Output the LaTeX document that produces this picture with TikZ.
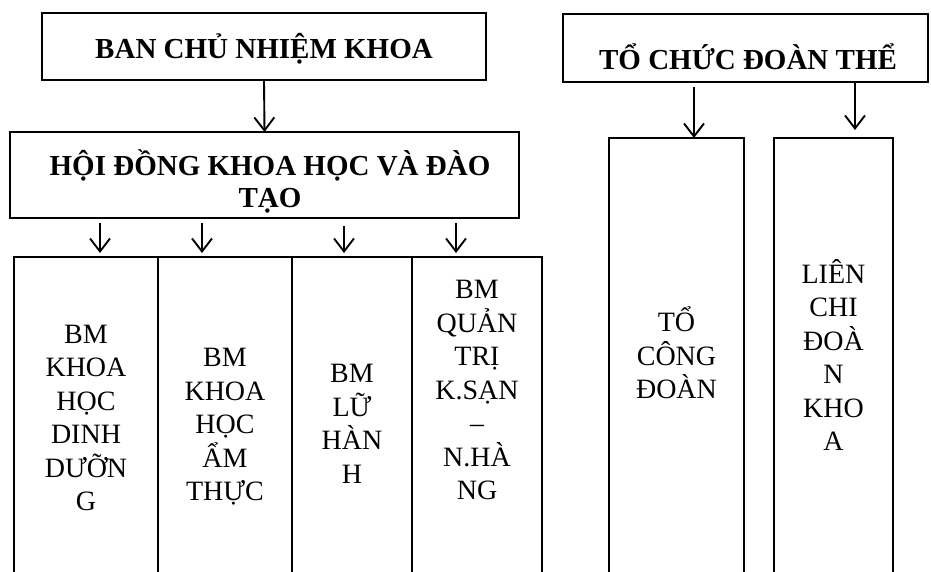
\documentclass[tikz,border=0pt]{standalone}
\usepackage{fontspec}
\setmainfont{Liberation Serif}
\usetikzlibrary{arrows.meta}
\begin{document}
\begin{tikzpicture}[x=1pt,y=-1pt,
  frame/.style={draw=black, line width=2.6pt, inner sep=0pt, outer sep=0pt},
  col/.style={draw=none, inner sep=0pt, outer sep=0pt},
  border/.style={draw=black, line width=2.6pt},
  head/.style={font=\fontsize{29}{32}\selectfont\bfseries, align=center, inner sep=0pt},
  body/.style={font=\fontsize{28}{33.5}\selectfont, align=center, inner sep=0pt},
  arr/.style={line width=1.9pt, -{Straight Barb[length=13pt,width=20pt,line width=1.9pt]}},
]
\useasboundingbox (0,0) rectangle (931,572);
\clip (0,0) rectangle (931,572);

% top boxes
\node[frame, minimum width=444pt, minimum height=67pt] (ban) at (264,46.5) {};
\node[head, anchor=base] (bant) at (264,59) {BAN CHỦ NHIỆM KHOA};

\node[frame, minimum width=509pt, minimum height=86pt] (hd) at (264.5,175) {};
\node[head] (hdt) at (270,181) {HỘI ĐỒNG KHOA HỌC VÀ ĐÀO\\TẠO};

\node[frame, minimum width=365pt, minimum height=68pt] (tc) at (745.5,48) {};
\node[head, anchor=base] (tct) at (748,70) {TỔ CHỨC ĐOÀN THỂ};

% columns (open at the bottom)
\node[col, minimum width=144pt, minimum height=343pt] (c1) at (86,428.5) {};
\node[col, minimum width=134pt, minimum height=343pt] (c2) at (225,428.5) {};
\node[col, minimum width=120pt, minimum height=343pt] (c3) at (352,428.5) {};
\node[col, minimum width=130pt, minimum height=343pt] (c4) at (477,428.5) {};
\node[col, minimum width=135pt, minimum height=470pt] (c5) at (676.5,373) {};
\node[col, minimum width=119pt, minimum height=470pt] (c6) at (833.5,373) {};

\foreach \c in {c1,c2,c3,c4,c5,c6}{
  \draw[border] (\c.south west) |- (\c.north east) -- (\c.south east);
}

% column texts
\node[body] (t1) at (86,418) {BM\\KHOA\\HỌC\\DINH\\DƯỠN\\G};
\node[body] (t2) at (225,427) {BM\\KHOA\\HỌC\\ẨM\\THỰC};
\node[body] (t3) at (352,424) {BM\\LỮ\\HÀN\\H};
\node[body] (t4) at (477,390) {BM\\QUẢN\\TRỊ\\K.SẠN\\–\\N.HÀ\\NG};
\node[body] (t5) at (676.5,353) {TỔ\\CÔNG\\ĐOÀN};
\node[body] (t6) at (833.5,355) {LIÊN\\CHI\\ĐOÀ\\N\\KHO\\A};

% arrow x positions
\coordinate (a1) at (100,0);
\coordinate (a2) at (202,0);
\coordinate (a3) at (344,0);
\coordinate (a4) at (456,0);
\coordinate (a5) at (694,0);
\coordinate (a6) at (855,0);

% connectors
\draw[arr] (ban.south) -- (hd.north);
\draw[arr, shorten <=5pt, shorten >=4pt] (hd.south -| a1) -- (c1.north -| a1);
\draw[arr, shorten <=5pt, shorten >=4pt] (hd.south -| a2) -- (c2.north -| a2);
\draw[arr, shorten <=8pt, shorten >=4pt] (hd.south -| a3) -- (c3.north -| a3);
\draw[arr, shorten <=5pt, shorten >=4pt] (hd.south -| a4) -- (c4.north -| a4);
\draw[arr, shorten <=5pt] (tc.south -| a5) -- (c5.north -| a5);
\draw[arr, shorten >=8pt] (tc.south -| a6) -- (c6.north -| a6);
\end{tikzpicture}
\end{document}
